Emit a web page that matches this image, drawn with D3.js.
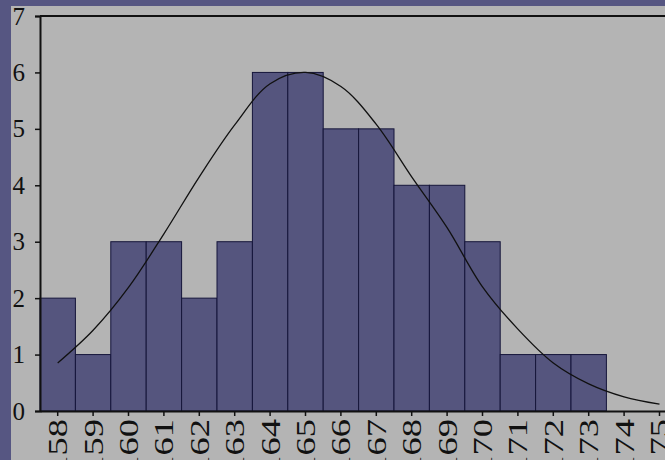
<!DOCTYPE html>
<html>
<head>
<meta charset="utf-8">
<script src="https://cdn.jsdelivr.net/npm/d3@7/dist/d3.min.js"></script>
<style>
	body { margin: 0; background: #565682; overflow: hidden; }
	text { font-family: "Liberation Serif", "DejaVu Serif", serif; fill: #111; }
</style>
</head>
<body>
<script>

// heights (cm) and counts
const heights = ["158","159","160","161","162","163","164","165","166","167","168","169","170","171","172","173","174","175"];
const counts  = [2, 1, 3, 3, 2, 3, 6, 6, 5, 5, 4, 4, 3, 1, 1, 1, 0, 0];
// fitted normal curve, read at each category centre
const curve   = [0.85, 1.43, 2.19, 3.14, 4.15, 5.07, 5.8, 6.0, 5.75, 5.08, 4.15, 3.25, 2.2, 1.45, 0.85, 0.48, 0.25, 0.12];
const yTicks  = [0, 1, 2, 3, 4, 5, 6, 7];

const width = 665, height = 460;

const svg = d3.select("body").append("svg")
	.attr("width", width)
	.attr("height", height);

// grey plotting panel
svg.append("rect")
	.attr("x", 11).attr("y", 6)
	.attr("width", width - 11).attr("height", height - 6)
	.attr("fill", "#b4b4b4");

const x = d3.scaleBand()
	.domain(heights)
	.range([40, 40 + heights.length * 35.4])
	.padding(0);

const y = d3.scaleLinear()
	.domain([0, 7])
	.range([411, 16]);

// bars (only the ones with a count)
svg.append("g").classed("bars", true)
	.selectAll("rect")
	.data(heights.filter((d, i) => counts[i] > 0))
	.enter().append("rect")
	.attr("x", d => x(d))
	.attr("y", d => y(counts[heights.indexOf(d)]))
	.attr("width", x.bandwidth())
	.attr("height", d => y(0) - y(counts[heights.indexOf(d)]))
	.attr("fill", "#55557e")
	.attr("stroke", "#15153a")
	.attr("stroke-width", 1);

// normal curve
const line = d3.line()
	.x((d, i) => x(heights[i]) + x.bandwidth() / 2)
	.y(d => y(d))
	.curve(d3.curveCatmullRom);

svg.append("path")
	.datum(curve)
	.attr("d", line)
	.attr("fill", "none")
	.attr("stroke", "#111")
	.attr("stroke-width", 1.3);

// top frame line
svg.append("line")
	.attr("x1", 40).attr("x2", width)
	.attr("y1", y(7)).attr("y2", y(7))
	.attr("stroke", "#111").attr("stroke-width", 2);

// y axis
const yAxis = svg.append("g")
	.attr("transform", "translate(40,0)")
	.call(d3.axisLeft(y).tickValues(yTicks).tickSize(5).tickPadding(10).tickFormat(d3.format("d")));
yAxis.select(".domain").attr("stroke", "#111").attr("stroke-width", 2);
yAxis.selectAll(".tick line").attr("stroke", "#111").attr("stroke-width", 1.5);
yAxis.selectAll("text")
	.attr("font-size", 25)
	.attr("font-family", "Liberation Serif, serif")
	.attr("fill", "#111");

// x axis
const xAxis = svg.append("g")
	.attr("transform", "translate(0," + y(0) + ")")
	.call(d3.axisBottom(x).tickSize(5).tickSizeOuter(0));
xAxis.select(".domain").attr("stroke", "#111").attr("stroke-width", 2);
xAxis.selectAll(".tick line").attr("stroke", "#111").attr("stroke-width", 1.5);
xAxis.selectAll("text")
	.attr("font-size", 27)
	.attr("font-family", "Liberation Serif, serif")
	.attr("fill", "#111")
	.attr("text-anchor", "end")
	.attr("dy", "0.35em")
	.attr("x", 0).attr("y", 0)
	.attr("transform", "translate(0,8) rotate(-90) scale(1.35,1)");

</script>
</body>
</html>
